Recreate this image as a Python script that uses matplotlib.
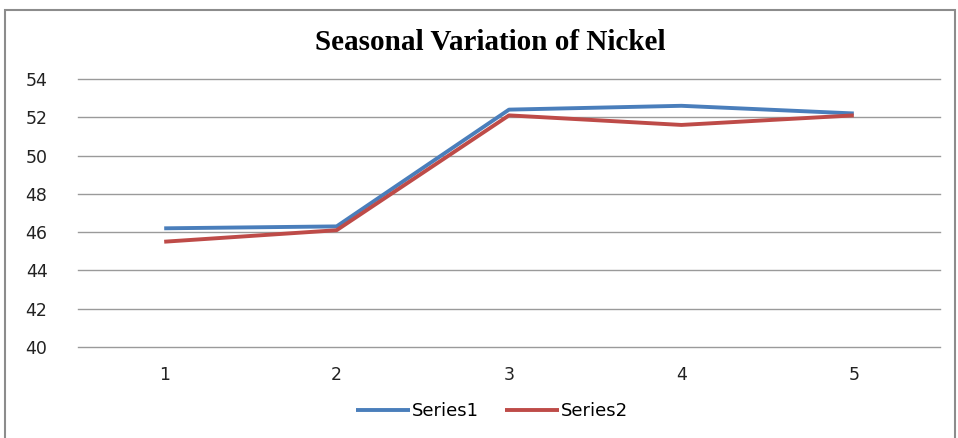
import matplotlib.pyplot as plt
from matplotlib.patches import Rectangle

categories = [1, 2, 3, 4, 5]
series1 = [46.2, 46.3, 52.4, 52.6, 52.2]
series2 = [45.5, 46.1, 52.1, 51.6, 52.1]
yticks = [40, 42, 44, 46, 48, 50, 52, 54]

W, H = 958, 438
fig = plt.figure(figsize=(W / 100, H / 100), dpi=100)

# outer chart frame (cut off at bottom like the screenshot)
fig.patches.append(Rectangle((5 / W, -0.1), 950 / W, 1.1 - 10 / H, transform=fig.transFigure,
                             fill=False, edgecolor='#8c8c8c', linewidth=1.5))

ax = fig.add_axes([78 / W, 1 - 347 / H, 862 / W, 268 / H])
ax.plot(categories, series1, color='#4A7EBB', linewidth=2.8, label='Series1', solid_capstyle='butt', zorder=3)
ax.plot(categories, series2, color='#BE4B48', linewidth=2.8, label='Series2', solid_capstyle='butt', zorder=3)

ax.set_xlim(0.5, 5.5)
ax.set_ylim(40, 54)
ax.set_yticks(yticks)
ax.set_xticks(categories)
ax.grid(axis='y', color='#9a9a9a', linewidth=1)
for gl in ax.get_ygridlines():
    gl.set_clip_on(False)
ax.set_axisbelow(True)
for s in ax.spines.values():
    s.set_visible(False)
ax.tick_params(length=0, labelsize=12.5, colors='#222222')
ax.tick_params(axis='y', pad=22)
ax.tick_params(axis='x', pad=14)
for lab in ax.get_xticklabels() + ax.get_yticklabels():
    lab.set_fontfamily('DejaVu Sans')

fig.text(490 / W, 1 - 42 / H, 'Seasonal Variation of Nickel', ha='center', va='center',
         fontsize=21, fontweight='bold', family='Liberation Serif')

fig.legend(loc='center', bbox_to_anchor=(492 / W, 1 - 411 / H), ncol=2, frameon=False,
           prop={'family': 'DejaVu Sans', 'size': 13}, handlelength=3.0, handletextpad=0.1,
           columnspacing=1.4)

fig.savefig('out.png', dpi=100)
